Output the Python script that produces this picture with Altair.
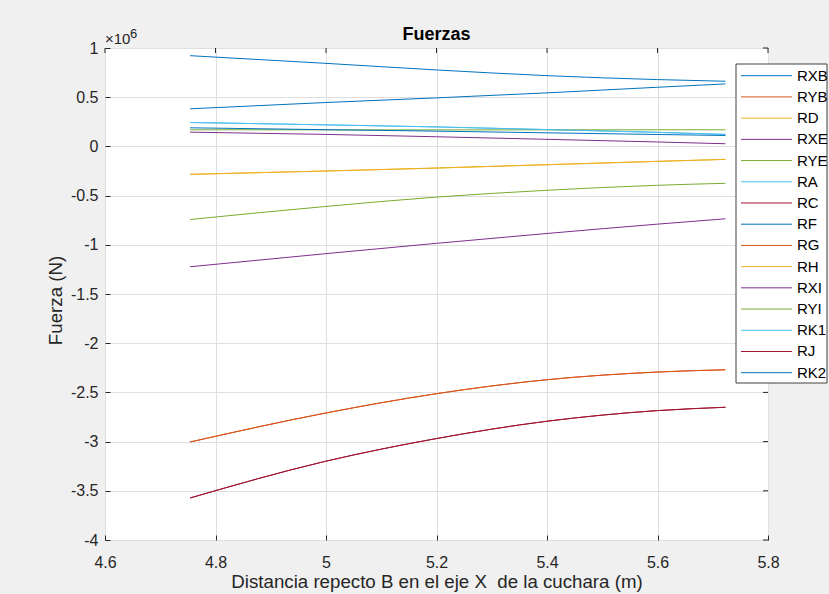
import altair as alt
import pandas as pd

# ---------------- data (forces in units of 1e6 N) ----------------
x_pos = [4.754, 5.0, 5.2, 5.4, 5.6, 5.723]

names = ["RXB", "RYB", "RD", "RXE", "RYE", "RA", "RC", "RF",
         "RG", "RH", "RXI", "RYI", "RK1", "RJ", "RK2"]
colors = ["#0072BD", "#D95319", "#EDB120", "#7E2F8E", "#77AC30", "#4DBEEE", "#A2142F",
          "#0072BD", "#D95319", "#EDB120", "#7E2F8E", "#77AC30", "#4DBEEE", "#A2142F",
          "#0072BD"]

RXB = [0.922, 0.844, 0.777, 0.719, 0.679, 0.662]
RYB = [-3.004, -2.709, -2.513, -2.371, -2.293, -2.270]
RD = [-0.284, -0.250, -0.220, -0.186, -0.152, -0.132]
RXE = [-1.223, -1.090, -0.985, -0.885, -0.790, -0.736]
RYE = [-0.743, -0.610, -0.515, -0.446, -0.395, -0.375]
RA = [0.243, 0.219, 0.198, 0.171, 0.143, 0.122]
RC = [-3.573, -3.199, -2.969, -2.793, -2.685, -2.651]
RF = [0.382, 0.446, 0.493, 0.544, 0.601, 0.635]
RG = [-3.004, -2.709, -2.513, -2.371, -2.293, -2.270]
RH = [-0.284, -0.250, -0.220, -0.186, -0.152, -0.132]
RXI = [0.145, 0.122, 0.098, 0.072, 0.045, 0.027]
RYI = [0.169, 0.168, 0.168, 0.168, 0.169, 0.169]
RK1 = [0.243, 0.219, 0.198, 0.171, 0.143, 0.122]
RJ = [-3.573, -3.199, -2.969, -2.793, -2.685, -2.651]
RK2 = [0.189, 0.170, 0.155, 0.138, 0.121, 0.111]

series = {"RXB": RXB, "RYB": RYB, "RD": RD, "RXE": RXE, "RYE": RYE, "RA": RA,
          "RC": RC, "RF": RF, "RG": RG, "RH": RH, "RXI": RXI, "RYI": RYI,
          "RK1": RK1, "RJ": RJ, "RK2": RK2}

x_ticks = [4.6, 4.8, 5.0, 5.2, 5.4, 5.6, 5.8]
y_ticks = [-4, -3.5, -3, -2.5, -2, -1.5, -1, -0.5, 0, 0.5, 1]

title_text = "Fuerzas"
x_title = "Distancia repecto B en el eje X\u00a0 de la cuchara (m)"
y_title = "Fuerza (N)"

# ---------------- tables ----------------
rows = []
for n in names:
    for xv, v in zip(x_pos, series[n]):
        rows.append({"x": xv, "fuerza": v, "serie": n})
df = pd.DataFrame(rows)
leg_df = pd.DataFrame({"serie": names, "idx": list(range(len(names)))})
xt_df = pd.DataFrame({"x": x_ticks})
yt_df = pd.DataFrame({"yt": y_ticks})
one = pd.DataFrame({"a": [0]})

FONT = "Liberation Sans"
DARK = "#262626"
W, H = 663, 492

xscale = alt.Scale(domain=[4.6, 5.8], nice=False, zero=False)
yscale = alt.Scale(domain=[-4, 1], nice=False, zero=False)
cscale = alt.Scale(domain=names, range=colors)

xaxis = alt.Axis(values=x_ticks, labelExpr="'' + datum.value", grid=True,
                 gridColor="#dfdfdf", gridWidth=1, domain=False, ticks=True,
                 tickSize=5, tickColor=DARK, offset=-5, labelPadding=14,
                 labelFlush=False, labelOverlap=False,
                 labelFont=FONT, labelFontSize=16, labelColor=DARK,
                 title=x_title, titleFont=FONT, titleFontSize=18.7,
                 titleFontWeight="normal", titleColor=DARK,
                 titleBaseline="alphabetic", titleY=52)
yaxis = alt.Axis(values=y_ticks, labelExpr="'' + datum.value", grid=True,
                 gridColor="#dfdfdf", gridWidth=1, domain=False, ticks=True,
                 tickSize=5, tickColor=DARK, offset=-5, labelPadding=7,
                 labelFlush=False, labelOverlap=False,
                 labelFont=FONT, labelFontSize=16, labelColor=DARK,
                 title=y_title, titleFont=FONT, titleFontSize=18.7,
                 titleFontWeight="normal", titleColor=DARK,
                 titleBaseline="alphabetic", titleX=-49, titleY=252)

lines = alt.Chart(df).mark_line(strokeWidth=1, interpolate="monotone").encode(
    x=alt.X("x:Q", scale=xscale, axis=xaxis),
    y=alt.Y("fuerza:Q", scale=yscale, axis=yaxis),
    color=alt.Color("serie:N", scale=cscale, legend=None),
)

top_ticks = alt.Chart(xt_df).mark_rule(color=DARK, strokeWidth=1).encode(
    x=alt.X("x:Q", scale=xscale), y=alt.value(0), y2=alt.value(5))
right_ticks = alt.Chart(yt_df).mark_rule(color=DARK, strokeWidth=1).encode(
    y=alt.Y("yt:Q", scale=yscale, axis=None), x=alt.value(W - 5), x2=alt.value(W))

leg_box = alt.Chart(one).mark_rect(fill="white", stroke="#404040", strokeWidth=1).encode(
    x=alt.value(631), x2=alt.value(722), y=alt.value(16), y2=alt.value(335))
leg_y = alt.Y("idx:Q", scale=alt.Scale(domain=[0, 14], range=[27.7, 324.7]), axis=None)
leg_lines = alt.Chart(leg_df).mark_rule(strokeWidth=1).encode(
    x=alt.value(636), x2=alt.value(687), y=leg_y,
    color=alt.Color("serie:N", scale=cscale, legend=None))
leg_text = alt.Chart(leg_df).mark_text(align="left", baseline="middle", font=FONT,
                                       fontSize=15, color="#000").encode(
    x=alt.value(692), y=leg_y, text="serie:N")

title = alt.Chart(one).mark_text(text=title_text, font=FONT, fontSize=18, fontWeight="bold",
                                 color="#000", align="center", baseline="alphabetic").encode(
    x=alt.value(W / 2), y=alt.value(-8.5))
exp1 = alt.Chart(one).mark_text(text="×10", font=FONT, fontSize=15, color=DARK,
                                align="left", baseline="alphabetic").encode(
    x=alt.value(0), y=alt.value(-4.5))
exp2 = alt.Chart(one).mark_text(text="6", font=FONT, fontSize=13, color=DARK,
                                align="left", baseline="alphabetic").encode(
    x=alt.value(25), y=alt.value(-10))

chart = alt.layer(lines, top_ticks, right_ticks, leg_box, leg_lines, leg_text,
                  title, exp1, exp2).resolve_scale(y="independent").properties(
    width=W, height=H,
    padding={"left": 105, "top": 48, "right": 829 - 105 - W, "bottom": 594 - 48 - H},
    autosize=alt.AutoSizeParams(type="none"),
    background="#f0f0f0",
).configure_view(fill="white", stroke=DARK, strokeWidth=1)

chart.save("out.html", embed_options={"renderer": "svg", "actions": False})
